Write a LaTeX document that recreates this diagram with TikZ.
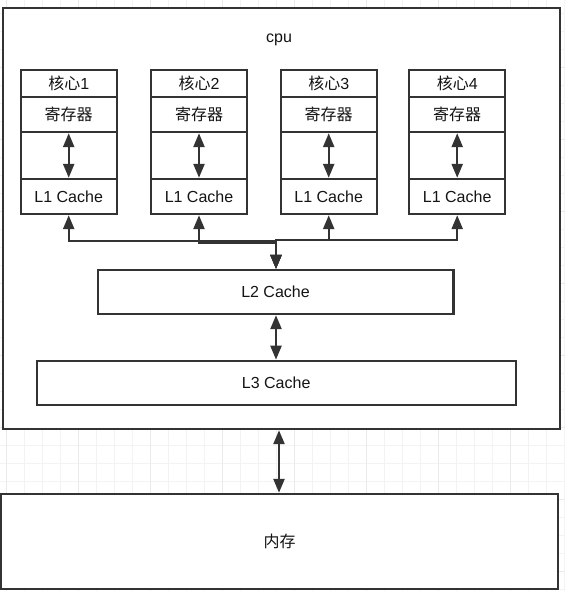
\documentclass[tikz,border=0pt]{standalone}
\usepackage{fontspec}
\setmainfont{Liberation Sans}
\newfontfamily\cjk{Noto Sans CJK SC}
\usetikzlibrary{arrows.meta}
\definecolor{linec}{HTML}{333333}
\definecolor{txtc}{HTML}{141414}
\definecolor{gminor}{HTML}{F3F3F3}
\definecolor{gmajor}{HTML}{EAEAEA}
\tikzset{
  box/.style={draw=linec, line width=2.4pt, fill=white, inner sep=0pt, text=txtc,
    font=\fontsize{16}{19}\selectfont},
  corebox/.style={box, minimum width=96pt},
  arr/.style={{Triangle[length=14pt,width=11pt]}-{Triangle[length=14pt,width=11pt]},
    line width=2.4pt, draw=linec},
  lbl/.style={text=txtc, font=\fontsize{16}{19}\selectfont, inner sep=0pt},
}
\begin{document}
\begin{tikzpicture}[x=1pt, y=-1pt]
\useasboundingbox (0,0) rectangle (565,591);
\fill[white] (0,0) rectangle (565,591);
% grid
\foreach \x in {6.7,24.7,...,565} \draw[gminor, line width=1.2pt] (\x,0) -- (\x,591);
\foreach \y in {13.3,31.3,...,591} \draw[gminor, line width=1.2pt] (0,\y) -- (565,\y);
\foreach \x in {6.7,78.7,...,565} \draw[gmajor, line width=1.2pt] (\x,0) -- (\x,591);
\foreach \y in {67.3,139.3,...,591} \draw[gmajor, line width=1.2pt] (0,\y) -- (565,\y);

% cpu and memory
\node[box, minimum width=557pt, minimum height=421pt] (cpu) at (281.5,218.5) {};
\node[lbl] (cputxt) at (279,40) {cpu};
\node[box, minimum width=557pt, minimum height=95pt] (mem) at (279.5,541.5) {{\cjk 内存}};

% cores
\foreach \n/\cx in {a/68.7, b/199, c/328.7, d/457.2}{
  \node[corebox, minimum height=27pt] (t\n) at (\cx,83.5) {};
  \node[corebox, minimum height=35pt] (r\n) at (\cx,114.5) {{\cjk 寄存器}};
  \node[corebox, minimum height=47pt] (m\n) at (\cx,155.5) {};
  \node[corebox, minimum height=35pt] (l\n) at (\cx,196.5) {L1 Cache};
  \draw[arr] (r\n.south) -- (l\n.north);
}
\node[lbl] at (ta) {{\cjk 核心}1};
\node[lbl] at (tb) {{\cjk 核心}2};
\node[lbl] at (tc) {{\cjk 核心}3};
\node[lbl] at (td) {{\cjk 核心}4};

% L2, L3
\node[box, minimum width=355.6pt, minimum height=44pt] (l2) at (275.5,292) {L2 Cache};
\node[box, minimum width=479pt, minimum height=44.3pt] (l3) at (276.2,383) {L3 Cache};

% bus
\coordinate (busa) at (276,241);
\coordinate (busb) at (276,243);
\coordinate (busc) at (276,240);
\draw[arr] (la.south) |- (busa) -- (busa |- l2.north);
\draw[arr] (lb.south) |- (busb) -- (busb |- l2.north);
\draw[arr] (lc.south) |- (busc) -- (busc |- l2.north);
\draw[arr] (ld.south) |- (busc) -- (busc |- l2.north);

\draw[arr] (l2.south -| busa) -- (l3.north -| busa);
\coordinate (memx) at (279,0);
\draw[arr] (cpu.south -| memx) -- (mem.north -| memx);
\end{tikzpicture}
\end{document}
